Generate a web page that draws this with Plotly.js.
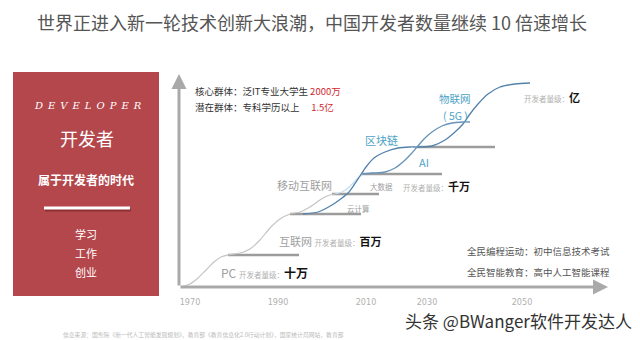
<!DOCTYPE html>
<html>
<head>
<meta charset="utf-8">
<script src="https://cdn.plot.ly/plotly-3.0.1.min.js"></script>
<style>
  html, body { margin: 0; padding: 0; background: #fff; }
  #chart { width: 640px; height: 340px; }
</style>
</head>
<body>
<div id="chart"></div>
<script>
// ---------------- DATA ----------------
const xTickPos   = [11, 99, 187, 248, 343];
const xTickYears = ['1970', '1990', '2010', '2030', '2050'];

// PC -> 互联网 -> 移动互联网 growth curve (grey)
const grayX = [2, 11, 19, 27, 35, 42, 49, 61, 71, 81, 91, 101, 111, 121, 131, 141, 148, 156];
const grayY = [0, 3, 9, 17, 25, 30, 32, 34, 38, 47, 59, 68, 73, 75, 80, 87, 91, 93];

// faint continuation (移动互联网 -> 大数据)
const lightX = [156, 163, 169, 175, 181, 185];
const lightY = [93, 95, 99, 105, 111, 113];

// 云计算 -> 区块链 -> 物联网 curve (blue)
const alphaX = [124, 139, 153, 163, 169, 175, 181, 187, 195, 206, 219, 231, 241, 253, 266, 276, 284, 291, 299, 309, 321, 336, 351];
const alphaY = [73, 75, 82, 89, 94, 102, 111, 120, 129, 135, 139, 140, 140, 141, 147, 155, 163, 173, 183, 193, 200, 203, 204];

// 大数据 -> AI -> 5G curve (blue)
const betaX = [183, 193, 206, 216, 225, 232, 238, 245, 253, 263, 273, 284, 291];
const betaY = [113, 114, 115, 119, 126, 133, 140, 148, 155, 161, 164, 165, 165];

// plateau bars (developer scale levels)
const plateauX0 = [49, 111, 153, 183, 238];
const plateauX1 = [120, 182, 200, 263, 316];
const plateauY  = [32, 73, 93, 113, 140];

// ---------------- LAYOUT HELPERS ----------------
const L = 179, R = 610, T = 74, B = 287;
const px = x => (x - L) / (R - L);
const py = y => (B - y) / (B - T);
const CJK = '"Noto Sans CJK SC", "Noto Sans", sans-serif';

function txt(text, x, y, size, color, anchor, extra) {
  return Object.assign({
    text: text, xref: 'paper', yref: 'paper', x: px(x), y: py(y),
    xanchor: anchor || 'left', yanchor: 'middle', showarrow: false,
    font: { family: CJK, size: size, color: color }
  }, extra || {});
}

// ---------------- TRACES ----------------
const traces = [];
for (let i = 0; i < plateauY.length; i++) {
  traces.push({
    x: [plateauX0[i], plateauX1[i]], y: [plateauY[i], plateauY[i]],
    mode: 'lines', line: { color: '#9c9c9c', width: 2.5 },
    hoverinfo: 'skip', showlegend: false
  });
}
traces.push({ x: grayX, y: grayY, mode: 'lines', line: { color: '#c4c4c4', width: 1.2, shape: 'spline', smoothing: 0.8 }, hoverinfo: 'skip', showlegend: false });
traces.push({ x: lightX, y: lightY, mode: 'lines', line: { color: '#c6dbeb', width: 1.2, shape: 'spline', smoothing: 0.8 }, hoverinfo: 'skip', showlegend: false });
traces.push({ x: alphaX, y: alphaY, mode: 'lines', line: { color: '#5282ab', width: 1.3, shape: 'spline', smoothing: 0.8 }, hoverinfo: 'skip', showlegend: false });
traces.push({ x: betaX, y: betaY, mode: 'lines', line: { color: '#6593bb', width: 1.3, shape: 'spline', smoothing: 0.8 }, hoverinfo: 'skip', showlegend: false });

// ---------------- SHAPES ----------------
const shapes = [
  // red panel
  { type: 'rect', xref: 'paper', yref: 'paper', x0: px(13), x1: px(159), y0: py(72), y1: py(296),
    fillcolor: '#b4474c', line: { width: 0 }, layer: 'below' },
  // bar shadow
  { type: 'line', xref: 'paper', yref: 'paper', x0: px(45), x1: px(131), y0: py(210), y1: py(210),
    line: { color: 'rgba(90,20,20,0.45)', width: 3 } },
  // white bar
  { type: 'line', xref: 'paper', yref: 'paper', x0: px(44), x1: px(130), y0: py(208), y1: py(208),
    line: { color: '#ffffff', width: 3 } }
];

// ---------------- ANNOTATIONS ----------------
const ann = [
  // axes with arrows
  { xref: 'x', yref: 'y', axref: 'x', ayref: 'y', x: 0, y: 213, ax: 0, ay: 0,
    showarrow: true, arrowhead: 2, arrowsize: 1, arrowwidth: 3, arrowcolor: '#a9a9a9', text: '' },
  { xref: 'x', yref: 'y', axref: 'x', ayref: 'y', x: 429, y: 0, ax: 0, ay: 0,
    showarrow: true, arrowhead: 2, arrowsize: 1, arrowwidth: 3, arrowcolor: '#a9a9a9', text: '' },

  // title
  txt('世界正进入新一轮技术创新大浪潮，中国开发者数量继续 10 倍速增长', 312, 22, 18, '#555555', 'center'),

  // red panel text
  txt('D\u2002E\u2002V\u2002E\u2002L\u2002O\u2002P\u2002E\u2002R', 88, 105, 10, '#ffffff', 'center',
      { font: { family: '"DejaVu Serif", serif', size: 10, color: '#ffffff', style: 'italic' } }),
  txt('开发者', 87, 138, 18, '#ffffff', 'center'),
  txt('<b>属于开发者的时代</b>', 86, 179, 12, '#ffffff', 'center'),
  txt('学习', 86, 234, 11, '#ffffff', 'center'),
  txt('工作', 86, 253, 11, '#ffffff', 'center'),
  txt('创业', 86, 272, 11, '#ffffff', 'center'),

  // groups
  txt('核心群体：泛IT专业大学生 <span style="color:#d2282c">2000万</span>', 193, 91, 9.5, '#333333'),
  txt('潜在群体：专科学历以上　 <span style="color:#d2282c">1.5亿</span>', 193, 107, 9.5, '#333333'),

  // era labels
  txt('PC <span style="font-size:7.5px;color:#b0b0b0">开发者量级：</span><b><span style="color:#111">十万</span></b>', 219, 272, 12, '#a0a0a0'),
  txt('互联网 <span style="font-size:7.5px;color:#b0b0b0">开发者量级：</span><b><span style="color:#111">百万</span></b>', 277, 241, 11, '#a0a0a0'),
  txt('移动互联网', 275, 185, 11, '#a0a0a0'),
  txt('云计算', 345, 208, 7.5, '#a0a0a0'),
  txt('大数据', 368, 186, 7.5, '#a0a0a0'),
  txt('<span style="font-size:7.5px;color:#b0b0b0">开发者量级：</span><b>千万</b>', 401, 186, 11, '#111111'),
  txt('区块链', 381, 140, 11, '#4ea3c6', 'center'),
  txt('AI', 424, 162, 11, '#4ea3c6', 'center'),
  txt('物联网', 455, 98, 10.5, '#4ea3c6', 'center'),
  txt('( 5G )', 455, 115, 10.5, '#4ea3c6', 'center'),
  txt('<span style="font-size:7.5px;color:#b0b0b0">开发者量级：</span><b>亿</b>', 522, 97, 11, '#111111'),

  // bottom-right notes
  txt('全民编程运动：初中信息技术考试', 612, 251, 9.5, '#555555', 'right'),
  txt('全民智能教育：高中人工智能课程', 612, 272, 9.5, '#555555', 'right'),

  // footer
  txt('信息来源：国务院《新一代人工智能发展规划》，教育部《教育信息化2.0行动计划》，国家统计局网站，教育部', 61, 334, 5.8, '#bbbbbb'),
  // watermark
  txt('头条 @BWanger软件开发达人', 634, 320, 17, '#333333', 'right')
];

const layout = {
  width: 640, height: 340,
  margin: { l: L, r: 640 - R, t: T, b: 340 - B, pad: 0 },
  paper_bgcolor: '#ffffff', plot_bgcolor: '#ffffff',
  showlegend: false,
  xaxis: {
    range: [0, R - L], showgrid: false, zeroline: false, showline: false,
    tickmode: 'array', tickvals: xTickPos, ticktext: xTickYears,
    ticks: 'outside', ticklen: 6, tickcolor: 'rgba(0,0,0,0)',
    tickfont: { family: '"Liberation Sans Narrow", "DejaVu Sans Condensed", sans-serif', size: 9, color: '#b0b0b0' },
    fixedrange: true
  },
  yaxis: {
    range: [0, B - T], showgrid: false, zeroline: false, showline: false,
    showticklabels: false, ticks: '', fixedrange: true
  },
  shapes: shapes,
  annotations: ann
};

Plotly.newPlot('chart', traces, layout, { displayModeBar: false, staticPlot: true });
</script>
</body>
</html>
